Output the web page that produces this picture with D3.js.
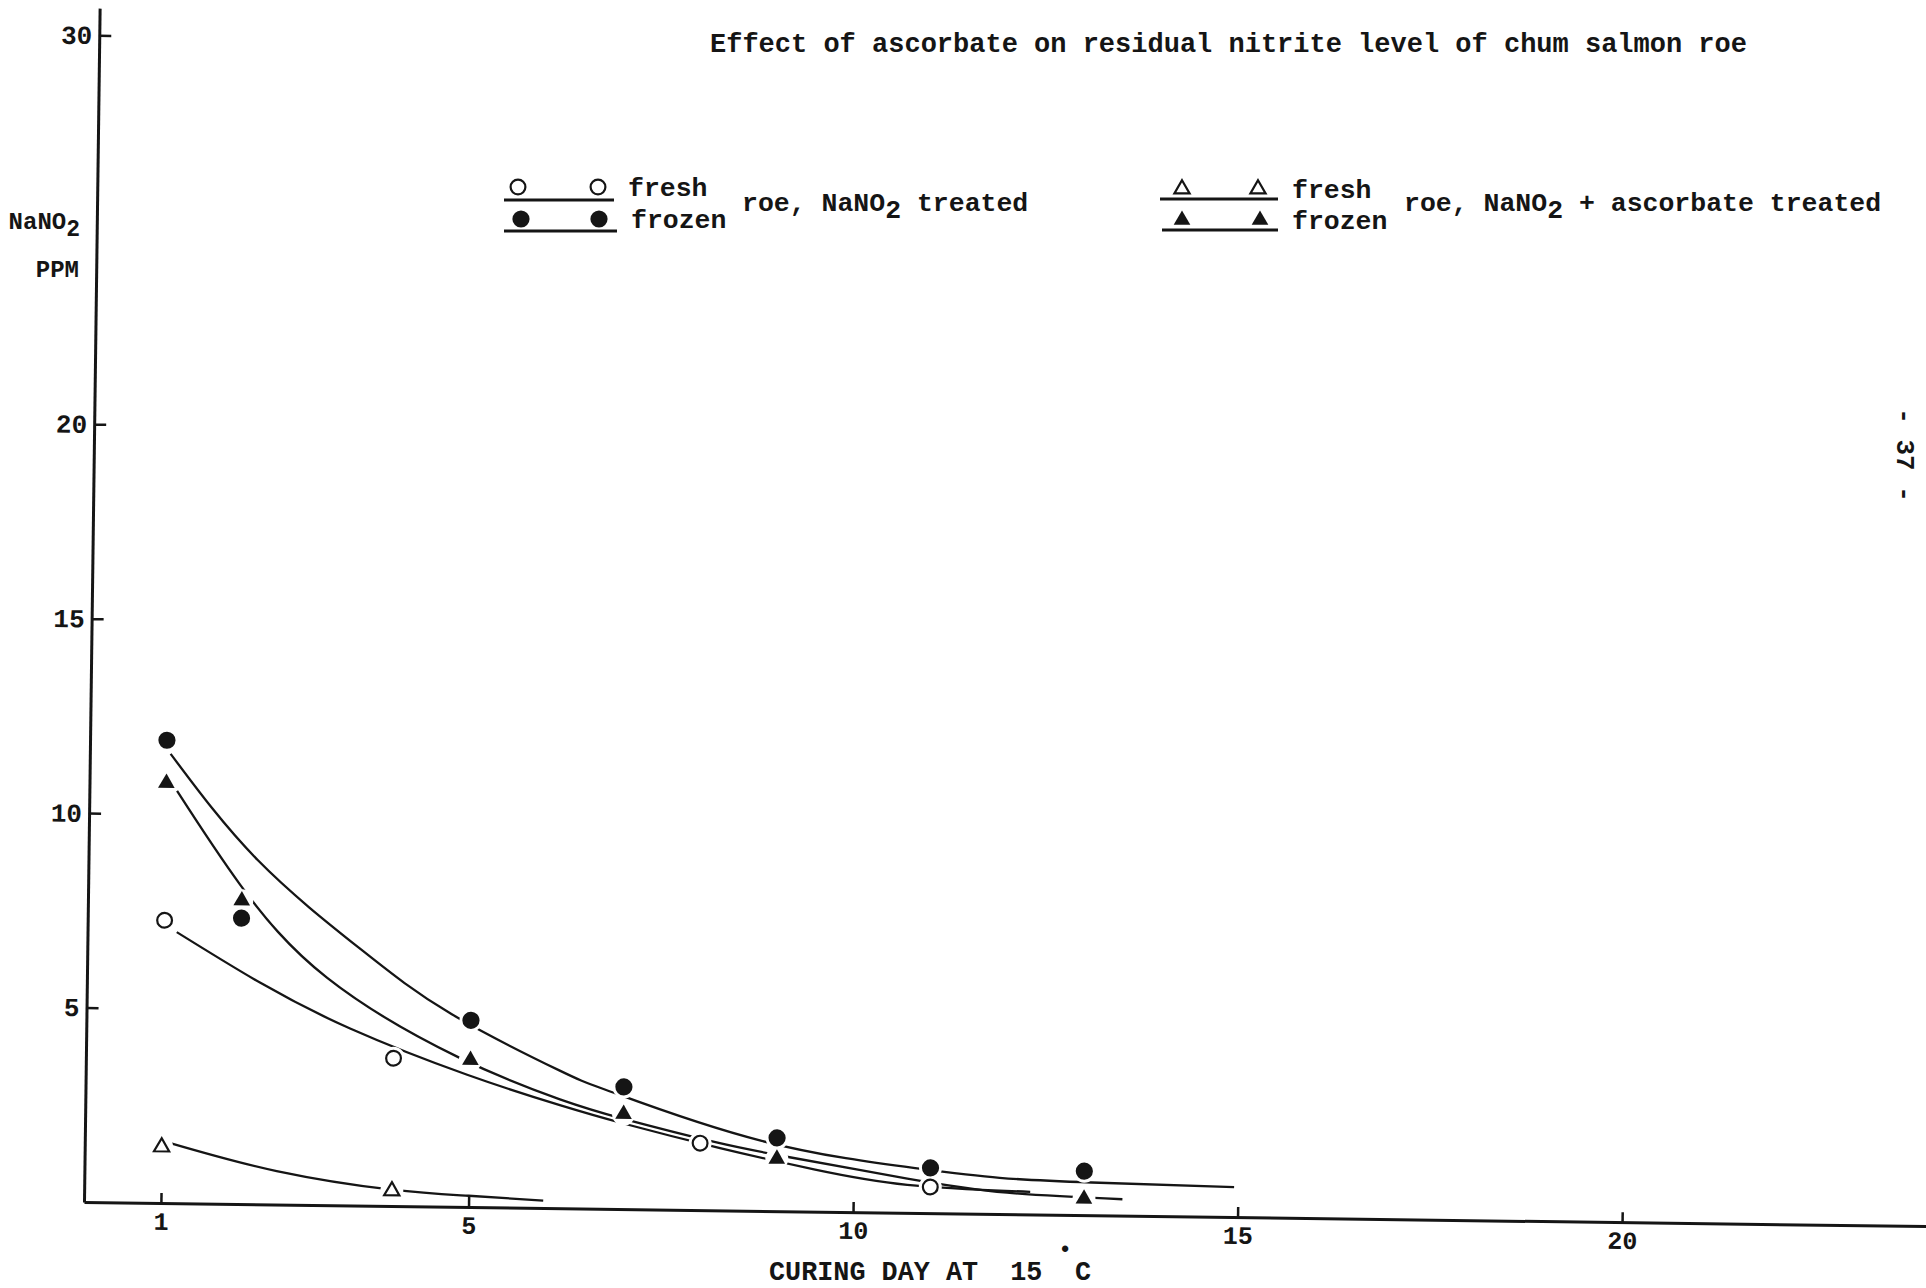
<!DOCTYPE html>
<html lang="en">
<head>
<meta charset="UTF-8">
<title>Effect of ascorbate on residual nitrite</title>
<style>
    body { margin: 0; background: #fff; }
    svg text { font-family: "Liberation Mono", "DejaVu Sans Mono", monospace; fill: #151515; font-weight: bold; }
</style>
</head>
<body>
<script src="https://d3js.org/d3.v7.min.js"></script>
<script>
    // axis ticks
    const xTicks = [1, 5, 10, 15, 20];
    const yTicks = [5, 10, 15, 20, 30];
    const xTop = 23.95;   // where the drawn x axis stops (days)
    const yTop = 30.7;    // where the drawn y axis stops (ppm)

    // measured points: curing day / NaNO2 ppm
    const freshNitriteDays = [1, 4, 8, 11];
    const freshNitritePpm = [7.27, 3.8, 1.72, 0.67];
    const frozenNitriteDays = [1, 2, 5, 7, 9, 11, 13];
    const frozenNitritePpm = [11.9, 7.35, 4.8, 3.14, 1.88, 1.16, 1.13];
    const freshAscDays = [1, 4];
    const freshAscPpm = [1.44, 0.39];
    const frozenAscDays = [1, 2, 5, 7, 9, 13];
    const frozenAscPpm = [10.8, 7.8, 3.78, 2.44, 1.34, 0.42];

    // hand fitted curves as [day, ppm]
    const frozenNitriteCurve = [[1.05, 11.55], [2.2, 8.85], [3.55, 6.6], [4.75, 4.95], [6.15, 3.55], [6.85, 3.0],
        [8.8, 1.8], [10.8, 1.15], [11.9, 0.93], [13.1, 0.84], [14.95, 0.77]];
    const frozenAscCurve = [[1.14, 10.6], [1.98, 8.2], [3.12, 5.85], [4.84, 3.85], [6.17, 2.8], [7.0, 2.32],
        [8.2, 1.75], [9.13, 1.4], [10.7, 0.88], [12.0, 0.55], [13.5, 0.42]];
    const freshNitriteCurve = [[1.16, 6.97], [2.25, 5.7], [3.43, 4.55], [4.96, 3.4], [6.17, 2.65], [7.0, 2.2],
        [8.26, 1.6], [9.5, 1.08], [10.7, 0.72], [12.3, 0.58]];
    const freshAscCurve = [[1.1, 1.55], [2.5, 0.86], [4.0, 0.42], [5.0, 0.29], [5.97, 0.19]];

    const ink = "#151515";
    const svg = d3.select("body").append("svg")
        .attr("width", 1926)
        .attr("height", 1288);

    // the sheet sits a little crooked on the scanner
    const g = svg.append("g").attr("transform", "translate(84,1202) rotate(0.75)");

    const x = d3.scaleLinear().domain([0, xTop]).range([0, 1842]);
    const y = d3.scaleLinear().domain([0, yTop]).range([0, -1194]);

    const line = d3.line()
        .x(d => x(d[0]))
        .y(d => y(d[1]))
        .curve(d3.curveNatural);

    [frozenNitriteCurve, frozenAscCurve, freshNitriteCurve, freshAscCurve].forEach(c => {
        g.append("path")
            .datum(c)
            .attr("fill", "none")
            .attr("stroke", ink)
            .attr("stroke-width", 2.3)
            .attr("d", line);
    });

    const series = [
        {days: freshNitriteDays, ppm: freshNitritePpm, shape: "circle", filled: false},
        {days: frozenNitriteDays, ppm: frozenNitritePpm, shape: "circle", filled: true},
        {days: freshAscDays, ppm: freshAscPpm, shape: "triangle", filled: false},
        {days: frozenAscDays, ppm: frozenAscPpm, shape: "triangle", filled: true}
    ];
    const points = [];
    series.forEach(s => s.days.forEach((d, i) => points.push({day: d, ppm: s.ppm[i], shape: s.shape, filled: s.filled})));

    // the curves are broken off around each plotted point
    g.selectAll("circle.gap")
        .data(points)
        .join("circle")
        .attr("class", "gap")
        .attr("cx", d => x(d.day))
        .attr("cy", d => y(d.ppm))
        .attr("r", 11.5)
        .attr("fill", "#fff");

    function drawMarker(sel, shape, filled) {
        if (shape === "circle") {
            sel.append("circle")
                .attr("r", filled ? 8.6 : 7.4)
                .attr("fill", filled ? ink : "#fff")
                .attr("stroke", ink)
                .attr("stroke-width", filled ? 0 : 2.2);
        } else {
            sel.append("path")
                .attr("d", d3.symbol(d3.symbolTriangle, filled ? 120 : 100)())
                .attr("fill", filled ? ink : "#fff")
                .attr("stroke", ink)
                .attr("stroke-width", filled ? 0 : 2.2);
        }
    }

    points.forEach(p => {
        const m = g.append("g").attr("transform", `translate(${x(p.day)},${y(p.ppm)})`);
        drawMarker(m, p.shape, p.filled);
    });

    // axes, ticks pointing inwards
    const yAxis = g.append("g")
        .call(d3.axisLeft(y).tickValues(yTicks).tickSizeInner(-12).tickSizeOuter(0).tickPadding(7));
    const xAxis = g.append("g")
        .call(d3.axisBottom(x).tickValues(xTicks).tickSizeInner(-10).tickSizeOuter(0).tickPadding(9));
    [yAxis, xAxis].forEach(a => {
        a.attr("font-family", null).attr("font-size", null);
        a.select(".domain").attr("stroke", ink).attr("stroke-width", 3);
        a.selectAll(".tick line").attr("stroke", ink).attr("stroke-width", 2.5);
        a.selectAll(".tick text").attr("fill", ink);
    });
    yAxis.selectAll(".tick text").attr("font-size", 26);
    xAxis.selectAll(".tick text").attr("font-size", 25);

    // axis titles
    const yLab = svg.append("text")
        .attr("x", 80).attr("y", 229)
        .attr("text-anchor", "end")
        .attr("font-size", 24);
    yLab.append("tspan").text("NaNO");
    yLab.append("tspan").attr("dy", 7).attr("font-size", 23).text("2");
    svg.append("text")
        .attr("x", 79).attr("y", 277)
        .attr("text-anchor", "end")
        .attr("font-size", 24)
        .text("PPM");

    svg.append("text")
        .attr("x", 769).attr("y", 1280)
        .attr("font-size", 26.8)
        .style("white-space", "pre")
        .text("CURING DAY AT  15");
    svg.append("text")
        .attr("x", 1075).attr("y", 1280)
        .attr("font-size", 26.8)
        .text("C");
    svg.append("text")
        .attr("x", 1065).attr("y", 1256)
        .attr("text-anchor", "middle")
        .attr("font-size", 22)
        .text("•");

    svg.append("text")
        .attr("x", 710).attr("y", 52)
        .attr("font-size", 27)
        .text("Effect of ascorbate on residual nitrite level of chum salmon roe");

    // legend
    function legendRow(x0, x1, yLine, yMark, markX, shape, filled, label) {
        svg.append("line")
            .attr("x1", x0).attr("x2", x1)
            .attr("y1", yLine).attr("y2", yLine)
            .attr("stroke", ink).attr("stroke-width", 2.8);
        markX.forEach(mx => {
            const m = svg.append("g").attr("transform", `translate(${mx},${yMark})`);
            drawMarker(m, shape, filled);
        });
        svg.append("text")
            .attr("x", x1 + 14).attr("y", yMark + 9)
            .attr("font-size", 26.5)
            .text(label);
    }
    legendRow(504, 614, 200, 187, [518, 598], "circle", false, "fresh");
    legendRow(504, 617, 231, 219, [521, 599], "circle", true, "frozen");
    legendRow(1160, 1278, 199, 189, [1182, 1258], "triangle", false, "fresh");
    legendRow(1162, 1278, 230, 220, [1182, 1260], "triangle", true, "frozen");

    function roeLabel(x0, before, after) {
        const t = svg.append("text").attr("x", x0).attr("y", 211).attr("font-size", 26.5);
        t.append("tspan").text(before);
        t.append("tspan").attr("dy", 7).text("2");
        t.append("tspan").attr("dy", -7).text(after);
    }
    roeLabel(742, "roe, NaNO", " treated");
    roeLabel(1404, "roe, NaNO", " + ascorbate treated");

    // page number in the margin
    svg.append("text")
        .attr("transform", "translate(1897,455) rotate(90)")
        .attr("text-anchor", "middle")
        .attr("font-family", "Liberation Sans, sans-serif")
        .attr("font-size", 26)
        .attr("font-weight", "normal")
        .style("white-space", "pre")
        .text("- 37 -");
</script>
</body>
</html>
